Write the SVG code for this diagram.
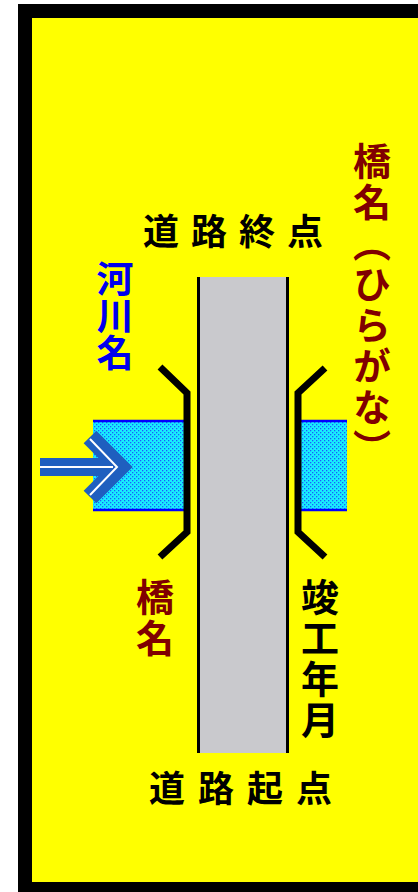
<svg xmlns="http://www.w3.org/2000/svg" width="418" height="892" viewBox="0 0 418 892">
<defs>
<style>
.t{font-family:"Noto Sans CJK JP","Noto Sans CJK SC",sans-serif;font-weight:bold}
.v{writing-mode:vertical-rl}
.br{fill:none;stroke:#000;stroke-width:7;stroke-linejoin:miter}
.rv{fill:url(#dots)}
.bl{stroke:#0000ff;stroke-width:2.5}
</style>
<pattern id="dots" width="4" height="4" patternUnits="userSpaceOnUse">
<rect width="4" height="4" fill="#18eefc"/>
<rect x="0" y="0" width="1.3" height="1.3" fill="#1a5cff"/>
<rect x="2" y="2" width="1.3" height="1.3" fill="#1a5cff"/>
</pattern>
</defs>
<rect width="418" height="892" fill="#ffffff"/>
<g id="frame">
<rect x="18" y="4" width="400" height="888" fill="#000"/>
<rect x="32" y="18" width="386" height="864" fill="#ffff00"/>
</g>
<g id="river">
<rect class="rv" x="93" y="421" width="94" height="89"/>
<line class="bl" x1="93" y1="421" x2="187" y2="421"/>
<line class="bl" x1="93" y1="510" x2="187" y2="510"/>
<rect class="rv" x="298" y="421" width="49" height="89"/>
<line class="bl" x1="298" y1="421" x2="347" y2="421"/>
<line class="bl" x1="298" y1="510" x2="347" y2="510"/>
</g>
<g id="road">
<rect x="198" y="277" width="90" height="476" fill="#c9c9cd"/>
<line x1="198.5" y1="277" x2="198.5" y2="753" stroke="#000" stroke-width="3"/>
<line x1="287.5" y1="277" x2="287.5" y2="753" stroke="#000" stroke-width="3"/>
</g>
<g id="bridge">
<polyline class="br" points="160,367 187,393 187,532 160,557"/>
<polyline class="br" points="325,368 298,393 298,532 325,557"/>
</g>
<g id="flow-arrow">
<path d="M40,467 H113 M90,437 L120,467 L90,497" fill="none" stroke="#1f5fbf" stroke-width="18" stroke-linejoin="miter"/>
<path d="M40,467 H113 M90,439 L117,467 L90,495" fill="none" stroke="#ffffff" stroke-width="2"/>
</g>
<g id="labels">
<text class="t" x="143" y="245" font-size="36" letter-spacing="12" fill="#000">道路終点</text>
<text class="t" x="149" y="802" font-size="36" letter-spacing="13" fill="#000">道路起点</text>
<text class="t v" x="115" y="260" font-size="37" fill="#0000ee">河川名</text>
<text class="t v" x="372" y="142" font-size="38" letter-spacing="3" fill="#800000">橋名（ひらがな）</text>
<text class="t v" x="155" y="578" font-size="38" letter-spacing="3" fill="#800000">橋名</text>
<text class="t v" x="320" y="578" font-size="38" letter-spacing="3" fill="#000">竣工年月</text>
</g>
</svg>
